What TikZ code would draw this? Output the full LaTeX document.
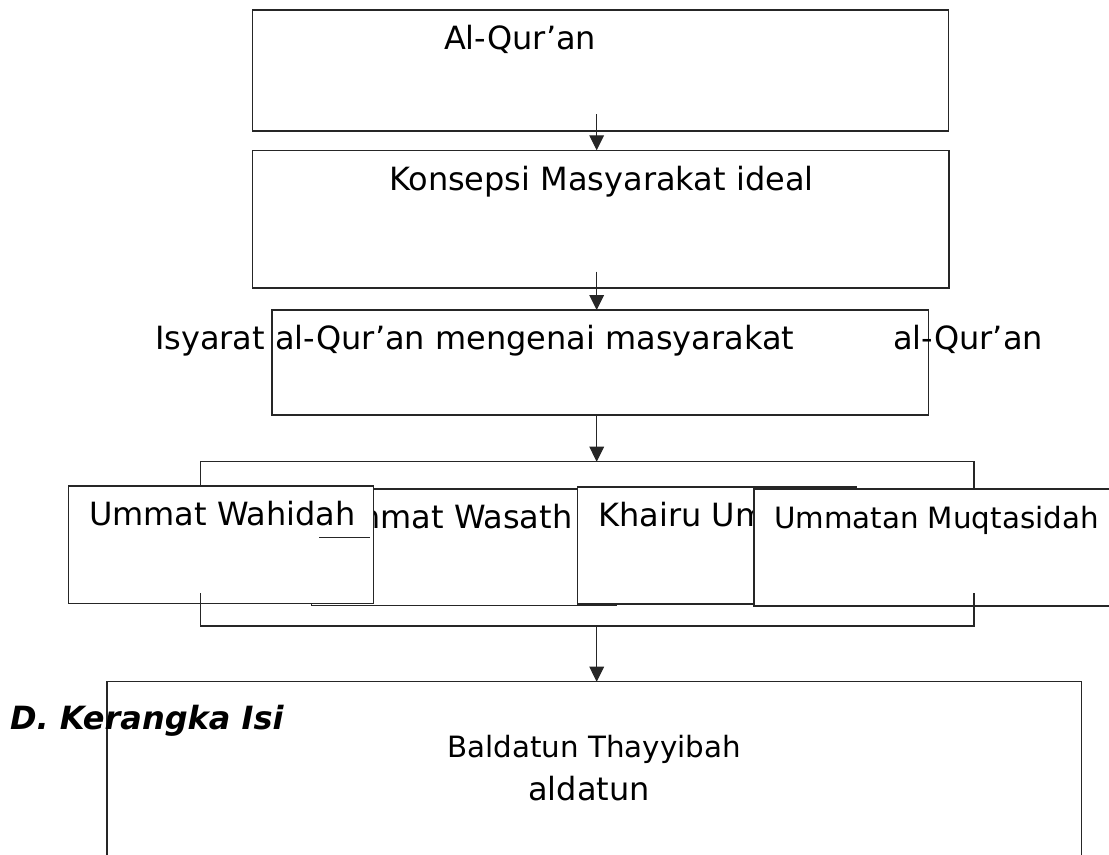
\documentclass[tikz,border=0pt]{standalone}
\usepackage{fontspec}
\setmainfont{DejaVu Sans}
\usetikzlibrary{arrows.meta,fit}
\tikzset{
  box/.style={draw=black!85, line width=0.8pt, fill=white, inner sep=0pt, outer sep=0pt, rectangle},
  lbl/.style={inner sep=0pt, outer sep=0pt, font=\fontsize{24}{28}\selectfont},
  lblsm/.style={inner sep=0pt, outer sep=0pt, font=\fontsize{22}{26}\selectfont},
  conn/.style={draw=black!85, line width=0.8pt},
  arr/.style={conn, -{Triangle[length=11.25pt,width=11pt]}},
}
\begin{document}
\begin{tikzpicture}[x=0.75pt,y=-0.75pt]
\useasboundingbox (0,0) rectangle (1109,854);
\clip (0,0) rectangle (1109,854);

% top boxes
\node[box, fit={(252.5,10) (948.5,131)}] (b1) {};
\node[lbl, anchor=base west] (t1) at (444,49.3) {Al-Qur’an};
\node[box, fit={(252.5,150.3) (949,288)}] (b2) {};
\node[lbl, anchor=base west] (t2) at (389,190) {Konsepsi Masyarakat ideal};
\node[box, fit={(272,310) (928.5,415)}] (b3) {};
\node[lbl, anchor=base west] (t3a) at (155,349) {Isyarat al-Qur’an mengenai masyarakat};
\node[lbl, anchor=base east] (t3b) at (1043,349) {al-Qur’an};

% arrows between top boxes
\coordinate (a1) at (596.7,114);
\draw[arr] (a1) -- (a1 |- b2.north);
\coordinate (a2) at (596.7,271.7);
\draw[arr] (a2) -- (a2 |- b3.north);

% row of boxes
\node[box, fit={(311.7,489) (616,605.7)}] (bs) {};
\node[lbl, anchor=base west] (ts) at (326,528) {Ummat Wasath};
\node[box, fit={(68.3,486) (373.5,603.5)}] (bw) {};
\node[lbl, anchor=base west] (tw) at (89,525.7) {Ummat Wahidah};
\node[box, fit={(577.5,487) (856,604)}] (bk) {};
\node[lbl, anchor=base west] (tk) at (598.5,526) {Khairu Ummah};
\node[box, fit={(754,489) (1115,606)}] (bm) {};
\node[lblsm, anchor=base west] (tm) at (774,528) {Ummatan Muqtasidah};

\coordinate (s1) at (319.3,537.7);
\coordinate (s2) at (370,537.7);
\draw[conn] (s1) -- (s2);

% top bracket
\coordinate (tl) at (200.5,461.7);
\coordinate (tr) at (974,461.7);
\draw[conn] (tl |- bw.north) -- (tl) -- (tr) -- (tr |- bm.north);
\draw[arr] (a2 |- b3.south) -- (a2 |- tl);

% bottom bracket
\coordinate (bl) at (200.5,593.3);
\coordinate (br) at (974,593.3);
\coordinate (bbl) at (200.5,626);
\coordinate (bbr) at (974,626);
\draw[conn] (bl) -- (bbl) -- (bbr) -- (br);

% bottom box
\node[box, fit={(107,681.7) (1081.5,880)}] (b5) {};
\coordinate (a4) at (596.7,626);
\draw[arr] (a4) -- (a4 |- b5.north);
\node[lblsm, anchor=base] (t5a) at (594.3,757) {Baldatun Thayyibah};
\node[lbl, anchor=base] (t5b) at (589,800) {aldatun};
\node[lbl, anchor=base west, font=\fontsize{24}{28}\selectfont\bfseries\itshape] (th) at (10,729) {D. Kerangka Isi};
\end{tikzpicture}
\end{document}
